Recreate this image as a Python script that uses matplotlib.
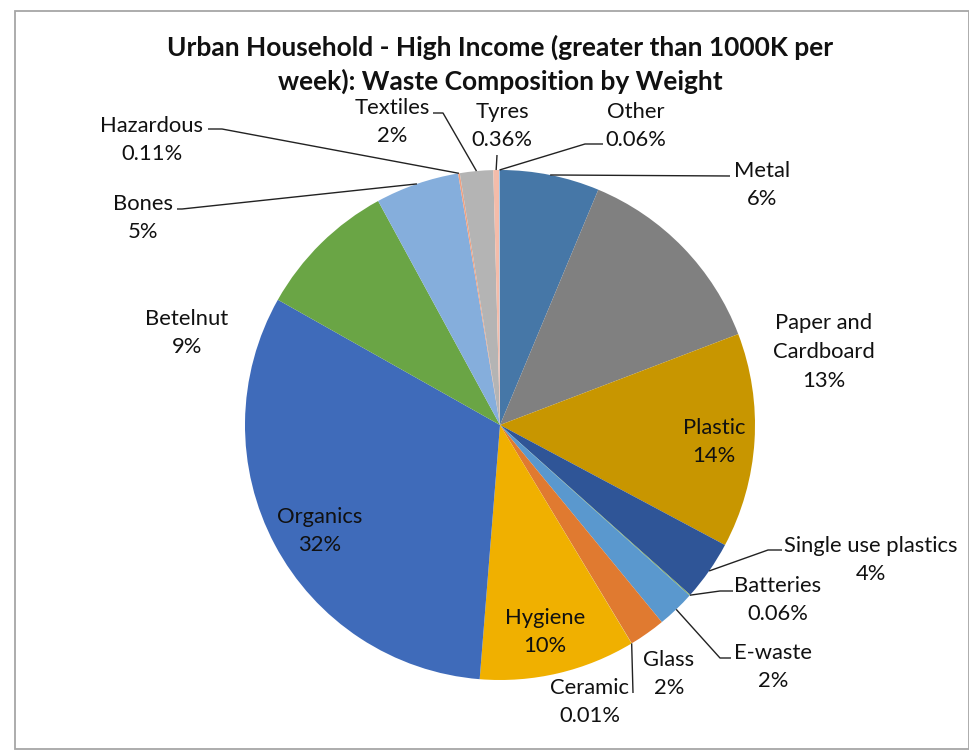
import matplotlib.pyplot as plt
import numpy as np
from matplotlib.patches import Rectangle

plt.rcParams['font.family'] = ['Lato', 'DejaVu Sans']

categories = ['Metal', 'Paper and\nCardboard', 'Plastic', 'Single use plastics',
              'Batteries', 'E-waste', 'Glass', 'Ceramic', 'Hygiene', 'Organics',
              'Betelnut', 'Bones', 'Hazardous', 'Textiles', 'Tyres', 'Other']
shares = [6.3, 12.9, 13.6, 3.8, 0.06, 2.4, 2.3, 0.01, 9.9, 31.9,
          8.9, 5.3, 0.11, 2.1, 0.36, 0.06]
colors = ['#4677A7', '#808080', '#C89600', '#2F5597', '#7FA85A', '#5A98CE',
          '#E07A30', '#C9C9C9', '#F0B000', '#3F6BBA', '#6AA545', '#85AEDC',
          '#F0A080', '#B4B4B4', '#F4BCAA', '#9DC3E6']
title_lines = ['Urban Household - High Income (greater than 1000K per',
               'week): Waste Composition by Weight']

# label placement in pixels (x, y from top); elbow=None means no leader line
label_pos = {
    'Metal': ((762, 185), (730, 176)),
    'Paper and\nCardboard': ((824, 352), None),
    'Plastic': ((714, 442), None),
    'Single use plastics': ((871, 560), (768, 550)),
    'Batteries': ((778, 600), (720, 591)),
    'E-waste': ((773, 667), (720, 658)),
    'Glass': ((669, 674), None),
    'Ceramic': ((590, 702), (633, 693)),
    'Hygiene': ((545, 632), None),
    'Organics': ((320, 531), None),
    'Betelnut': ((187, 333), None),
    'Bones': ((143, 218), (182, 209)),
    'Hazardous': ((152, 140), (222, 129)),
    'Textiles': ((392, 122), (443, 113)),
    'Tyres': ((502, 126), (497, 155)),
    'Other': ((636, 126), (585, 144)),
}
# leader lines that run horizontally into the label, and where they stop
label_edge = {
    'Metal': 730, 'Single use plastics': 782, 'Batteries': 733, 'E-waste': 731,
    'Bones': 177, 'Hazardous': 208, 'Textiles': 433, 'Other': 603,
}


def fmt(v):
    if v < 1:
        return '{:.2f}%'.format(v)
    return '{:.0f}%'.format(v)


def main():
    fig = plt.figure(figsize=(9.7, 7.54), dpi=100)
    ax = fig.add_axes([0, 0, 1, 1])
    ax.axis('off')

    cx, cy, r = 500, 425, 255
    wedges, _ = ax.pie(shares, colors=colors, center=(cx, cy), radius=r,
                       startangle=-90, counterclock=True,
                       wedgeprops=dict(linewidth=0, antialiased=True))
    ax.set_xlim(0, 970)
    ax.set_ylim(754, 0)
    ax.set_aspect('equal')

    for w, name, v in zip(wedges, categories, shares):
        (tx, ty), elbow = label_pos[name]
        ax.text(tx, ty, name + '\n' + fmt(v), ha='center', va='center',
                fontsize=15.8, color='#111111', linespacing=1.55)
        if elbow is None:
            continue
        mid = np.deg2rad((w.theta1 + w.theta2) / 2)
        px, py = cx + r * np.cos(mid), cy + r * np.sin(mid)
        xs = [px, elbow[0]]
        ys = [py, elbow[1]]
        if name in label_edge:
            xs.append(label_edge[name])
            ys.append(elbow[1])
        ax.plot(xs, ys, color='#222222', lw=1.0, solid_capstyle='butt')

    ax.text(500, 47, title_lines[0], ha='center', va='center', fontsize=19,
            fontweight='bold', color='#111111')
    ax.text(500, 81, title_lines[1], ha='center', va='center', fontsize=19,
            fontweight='bold', color='#111111')

    ax.add_patch(Rectangle((15, 11), 954, 738, fill=False, edgecolor='#A6A6A6',
                           lw=1.3))

    fig.savefig('out.png', dpi=100)


if __name__ == '__main__':
    main()
